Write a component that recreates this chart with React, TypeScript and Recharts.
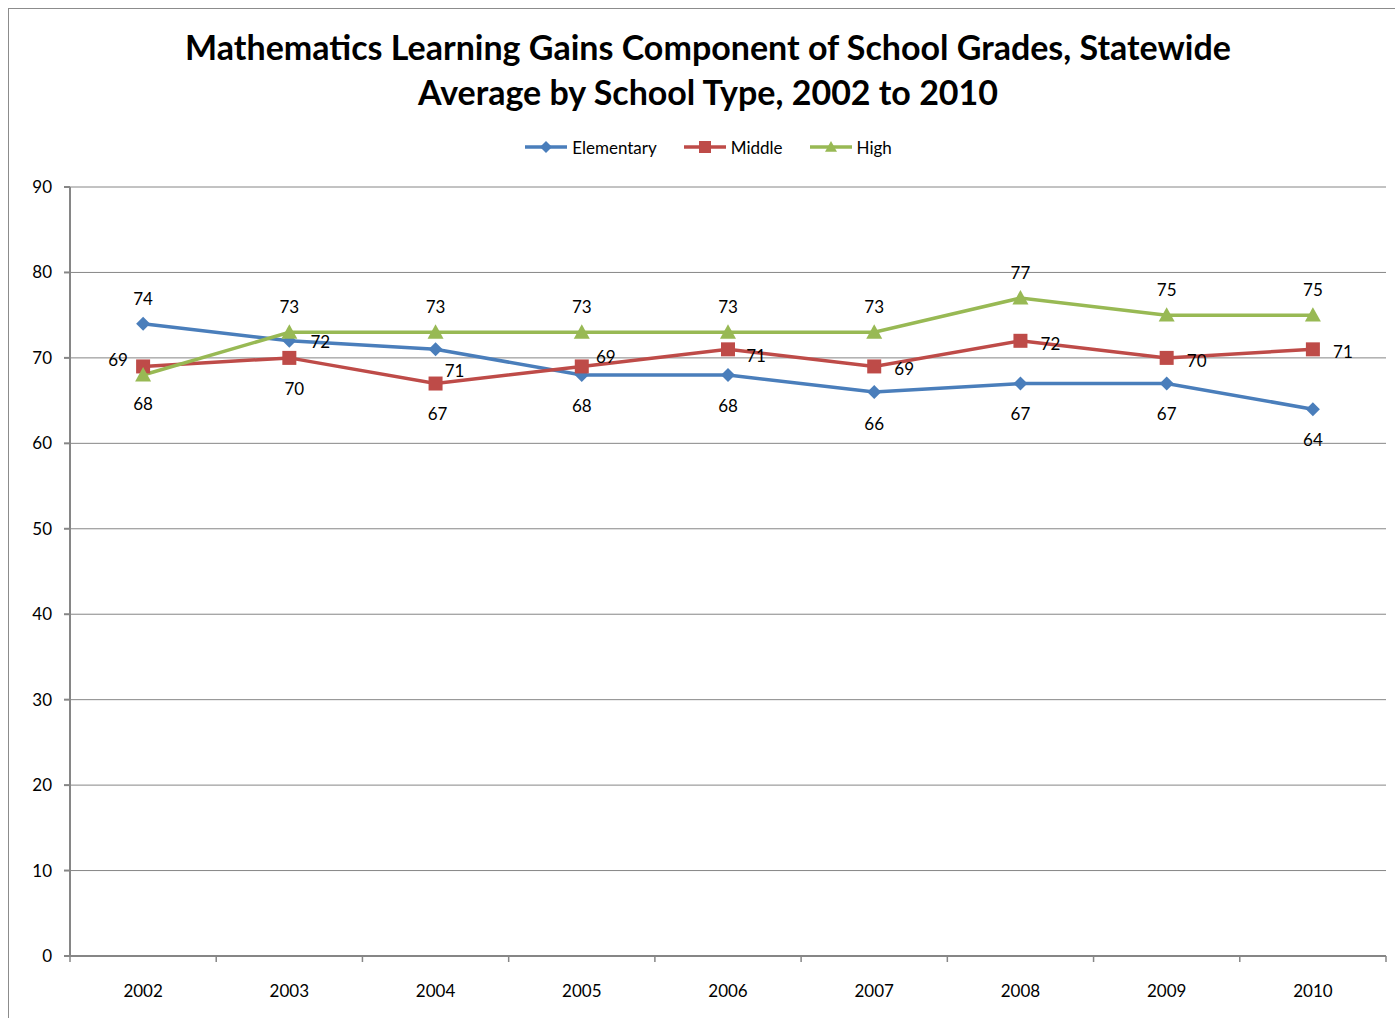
import React from "react";
import {
  LineChart,
  Line,
  XAxis,
  YAxis,
  CartesianGrid,
  LabelList,
} from "recharts";

const years = ["2002", "2003", "2004", "2005", "2006", "2007", "2008", "2009", "2010"];
const elementary = [74, 72, 71, 68, 68, 66, 67, 67, 64];
const middle = [69, 70, 67, 69, 71, 69, 72, 70, 71];
const high = [68, 73, 73, 73, 73, 73, 77, 75, 75];
const yTicks = [0, 10, 20, 30, 40, 50, 60, 70, 80, 90];

const chartData = years.map((year, i) => ({
  year,
  Elementary: elementary[i],
  Middle: middle[i],
  High: high[i],
}));

// label placement around each point, [dx, dy] in px
const elemLabelPos = [[0, -25], [31, 1], [19, 21], [0, 31], [0, 31], [0, 31], [0, 30], [0, 30], [0, 30]];
const middleLabelPos = [[-25, -7], [5, 31], [2, 30], [24, -10], [28, 6], [30, 2], [30, 3], [30, 3], [30, 2]];
const highLabelPos = [[0, 29], [0, -26], [0, -26], [0, -26], [0, -26], [0, -26], [0, -26], [0, -26], [0, -26]];

const BLUE = "#4a7ebb";
const RED = "#be4b48";
const GREEN = "#98b954";
const AXIS = "#868686";
const FONT = "Lato, 'Open Sans', sans-serif";
const HALF_BAND = 1316 / 9 / 2;

const makeLabel = (pos: number[][]) => (props: any) => {
  const { x, y, value, index } = props;
  const [dx, dy] = pos[index] || [0, -20];
  return (
    <text
      x={Number(x) + dx}
      y={Number(y) + dy}
      textAnchor="middle"
      dominantBaseline="central"
      fontFamily={FONT}
      fontSize={17}
      fill="#000"
    >
      {value}
    </text>
  );
};

const Diamond = ({ cx, cy, r = 7, color }: any) => (
  <polygon
    points={`${cx},${cy - r} ${cx + r},${cy} ${cx},${cy + r} ${cx - r},${cy}`}
    fill={color}
  />
);
const Square = ({ cx, cy, r = 7, color }: any) => (
  <rect x={cx - r} y={cy - r} width={r * 2} height={r * 2} fill={color} />
);
const Triangle = ({ cx, cy, r = 8, color }: any) => (
  <polygon
    points={`${cx},${cy - r} ${cx + r},${cy + r * 0.8} ${cx - r},${cy + r * 0.8}`}
    fill={color}
  />
);

const XTick = (props: any) => {
  const { x, y, payload, index } = props;
  return (
    <g>
      <line x1={x - HALF_BAND} y1={y} x2={x - HALF_BAND} y2={y + 6} stroke={AXIS} strokeWidth={1.5} />
      {index === years.length - 1 && (
        <line x1={x + HALF_BAND} y1={y} x2={x + HALF_BAND} y2={y + 6} stroke={AXIS} strokeWidth={1.5} />
      )}
      <text x={x} y={y + 34} textAnchor="middle" dominantBaseline="central" fontFamily={FONT} fontSize={17} fill="#000">
        {payload.value}
      </text>
    </g>
  );
};

const legendItems = [
  { name: "Elementary", color: BLUE, Mark: Diamond },
  { name: "Middle", color: RED, Mark: Square },
  { name: "High", color: GREEN, Mark: Triangle },
];

export default function App() {
  return (
    <div
      style={{
        position: "absolute",
        left: 0,
        top: 0,
        width: 1395,
        height: 1018,
        overflow: "hidden",
        background: "#fff",
        fontFamily: FONT,
      }}
    >
      <div
        style={{
          position: "absolute",
          left: 8,
          top: 8,
          width: 1420,
          height: 1040,
          border: "1px solid #8c8c8c",
        }}
      />
      <div
        style={{
          position: "absolute",
          left: 8,
          top: 24,
          width: 1400,
          textAlign: "center",
          fontWeight: 700,
          fontSize: 34,
          lineHeight: "45px",
          color: "#000",
        }}
      >
        Mathematics Learning Gains Component of School Grades, Statewide
        <br />
        Average by School Type, 2002 to 2010
      </div>
      <div
        style={{
          position: "absolute",
          left: 8,
          top: 136,
          width: 1400,
          display: "flex",
          justifyContent: "center",
          gap: 26,
          fontSize: 17,
          color: "#000",
        }}
      >
        {legendItems.map(({ name, color, Mark }) => (
          <div key={name} style={{ display: "flex", alignItems: "center", gap: 4 }}>
            <svg width={44} height={22}>
              <line x1={1} y1={11} x2={43} y2={11} stroke={color} strokeWidth={3.5} />
              <Mark cx={22} cy={11} r={6} color={color} />
            </svg>
            <span>{name}</span>
          </div>
        ))}
      </div>
      <div style={{ position: "absolute", left: 0, top: 0 }}>
        <LineChart
          width={1395}
          height={1018}
          data={chartData}
          margin={{ top: 187, right: 9, bottom: 22, left: 10 }}
        >
          <CartesianGrid vertical={false} stroke={AXIS} strokeWidth={1} />
          <XAxis
            dataKey="year"
            stroke={AXIS}
            strokeWidth={2}
            tickLine={false}
            tickSize={0}
            tickMargin={0}
            height={40}
            padding={{ left: HALF_BAND, right: HALF_BAND }}
            tick={<XTick />}
            interval={0}
          />
          <YAxis
            domain={[0, 90]}
            ticks={yTicks}
            width={60}
            stroke={AXIS}
            strokeWidth={2}
            tickSize={6}
            tickMargin={12}
            tick={{ fill: "#000", fontSize: 17, fontFamily: FONT }}
          />
          <Line
            dataKey="Elementary"
            stroke={BLUE}
            strokeWidth={3.5}
            isAnimationActive={false}
            dot={(p: any) => <Diamond key={`e${p.index}`} cx={p.cx} cy={p.cy} color={BLUE} />}
            activeDot={false}
          >
            <LabelList dataKey="Elementary" content={makeLabel(elemLabelPos)} />
          </Line>
          <Line
            dataKey="Middle"
            stroke={RED}
            strokeWidth={3.5}
            isAnimationActive={false}
            dot={(p: any) => <Square key={`m${p.index}`} cx={p.cx} cy={p.cy} color={RED} />}
            activeDot={false}
          >
            <LabelList dataKey="Middle" content={makeLabel(middleLabelPos)} />
          </Line>
          <Line
            dataKey="High"
            stroke={GREEN}
            strokeWidth={3.5}
            isAnimationActive={false}
            dot={(p: any) => <Triangle key={`h${p.index}`} cx={p.cx} cy={p.cy} color={GREEN} />}
            activeDot={false}
          >
            <LabelList dataKey="High" content={makeLabel(highLabelPos)} />
          </Line>
        </LineChart>
      </div>
    </div>
  );
}
